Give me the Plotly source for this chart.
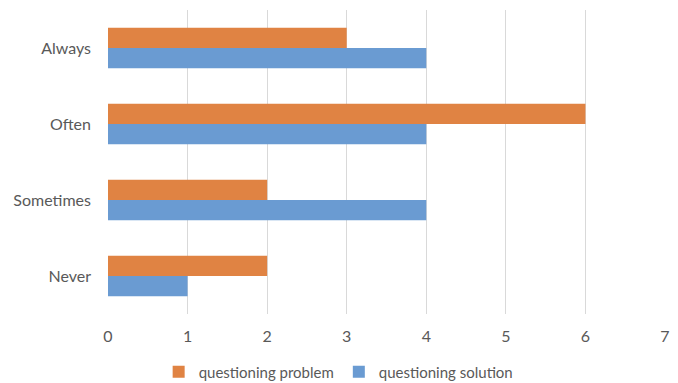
import plotly.graph_objects as go

categories = ["Never", "Sometimes", "Often", "Always"]
questioning_problem = [2, 2, 6, 3]
questioning_solution = [1, 4, 4, 4]
x_ticks = [0, 1, 2, 3, 4, 5, 6, 7]

FONT = "Lato, 'Open Sans', sans-serif"
TEXT = "#595959"

fig = go.Figure()
# In grouped horizontal bars the first trace sits lowest in each group
fig.add_trace(go.Bar(
    y=categories, x=questioning_solution, orientation="h",
    name="questioning solution", marker=dict(color="#6A9BD2", line_width=0),
))
fig.add_trace(go.Bar(
    y=categories, x=questioning_problem, orientation="h",
    name="questioning problem", marker=dict(color="#E08343", line_width=0),
))

fig.update_layout(
    width=678, height=383,
    margin=dict(l=108, r=13, t=10, b=69, autoexpand=False),
    paper_bgcolor="white", plot_bgcolor="white",
    barmode="group", bargap=0.47, bargroupgap=0,
    font=dict(family=FONT, size=16, color=TEXT),
    showlegend=True,
    legend=dict(
        orientation="h", traceorder="reversed",
        xref="container", x=0.234, xanchor="left",
        yref="container", y=0.029, yanchor="middle",
        font=dict(size=15, color=TEXT),
        bgcolor="rgba(0,0,0,0)",
    ),
    xaxis=dict(
        range=[0, 7], tickvals=x_ticks, showgrid=True, gridcolor="#D9D9D9",
        gridwidth=1, zeroline=False, showline=False, ticks="",
        ticklabelstandoff=11, fixedrange=True,
    ),
    yaxis=dict(
        categoryorder="array", categoryarray=categories,
        showgrid=False, zeroline=False, showline=False, ticks="",
        ticklabelstandoff=16, fixedrange=True,
    ),
)

fig.write_html("out.html")
